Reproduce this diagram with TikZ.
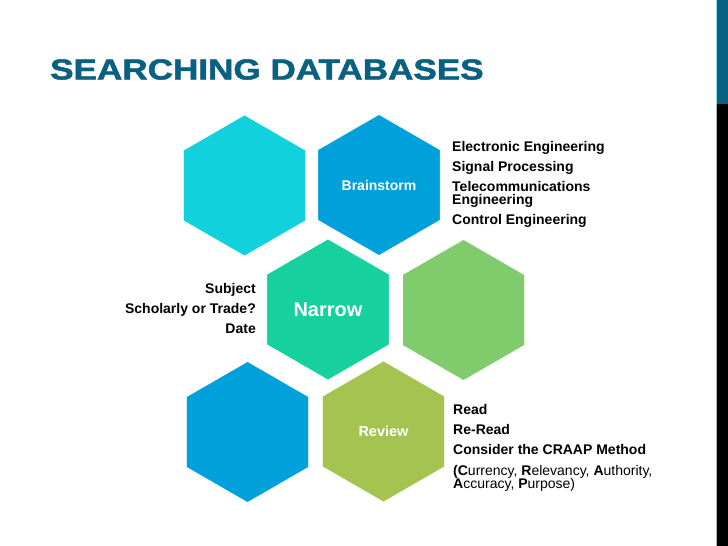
\documentclass[tikz,border=0pt]{standalone}
\usepackage{fontspec}
\setmainfont{Liberation Sans}
\newfontfamily\titlefont[BoldFeatures={FakeBold=1.6}]{Liberation Sans}
\usetikzlibrary{shapes.geometric}
\definecolor{titleteal}{RGB}{10,96,128}
\definecolor{hexcyan}{RGB}{17,210,220}
\definecolor{hexblue}{RGB}{0,160,218}
\definecolor{hexmint}{RGB}{22,208,158}
\definecolor{hexgreen}{RGB}{128,204,108}
\definecolor{hexolive}{RGB}{165,195,80}
\begin{document}
\begin{tikzpicture}[x=1pt,y=-1pt,
  hexbox/.style={regular polygon, regular polygon sides=6, shape border rotate=30,
    minimum size=141pt, inner sep=0pt, outer sep=0pt, draw=white, line width=0.6pt, text=white,
    font=\fontsize{14}{16}\selectfont\bfseries},
  listline/.style={anchor=base west, inner sep=0pt, font=\fontsize{14}{16}\selectfont\bfseries},
  listright/.style={anchor=base east, inner sep=0pt, font=\fontsize{14}{16}\selectfont\bfseries},
  plainline/.style={anchor=base west, inner sep=0pt, font=\fontsize{14}{16}\selectfont}]
\useasboundingbox (0,0) rectangle (728,546);
\fill[white] (0,0) rectangle (728,546);
% right bar
\fill[titleteal] (716,0) rectangle (728,104);
\fill[black] (716,104) rectangle (728,546);
\draw[gray!60, line width=0.6pt] (716,104) -- (716,546);
\draw[cyan!40, line width=0.6pt] (716,0) -- (716,104);
% title
\node[anchor=base west, inner sep=0pt, text=titleteal, font=\fontsize{29}{34}\selectfont\titlefont\bfseries] (title) at (50,79.5) {\scalebox{1.21}[1]{SEARCHING DATABASES}};
% hexagons
\node[hexbox, fill=hexcyan] (h1) at (244.5,185.5) {};
\node[hexbox, fill=hexblue] (h2) at (379,185) {Brainstorm};
\node[hexbox, fill=hexmint, font=\fontsize{20}{22}\selectfont\bfseries] (h3) at (328,309.5) {Narrow};
\node[hexbox, fill=hexgreen] (h4) at (463.5,310) {};
\node[hexbox, fill=hexblue] (h5) at (247.5,432) {};
\node[hexbox, fill=hexolive, font=\fontsize{14.5}{16}\selectfont\bfseries] (h6) at (383.5,431.5) {Review};
% brainstorm list
\node[listline] (b1) at (452,151.5) {Electronic Engineering};
\node[listline] (b2) at (452,171) {Signal Processing};
\node[listline] (b3) at (452,191.5) {Telecommunications};
\node[listline] (b4) at (452,204) {Engineering};
\node[listline] (b5) at (452,224.5) {Control Engineering};
% narrow list
\node[listright] (n1) at (256,293.5) {Subject};
\node[listright] (n2) at (256,313.5) {Scholarly or Trade?};
\node[listright] (n3) at (256,333.5) {Date};
% review list
\node[listline] (r1) at (453,414.5) {Read};
\node[listline] (r2) at (453,434.5) {Re-Read};
\node[listline] (r3) at (453,454.5) {Consider the CRAAP Method};
\node[plainline] (r4) at (453,475.5) {\textbf{(C}urrency, \textbf{R}elevancy, \textbf{A}uthority,};
\node[plainline] (r5) at (453,488) {\textbf{A}ccuracy, \textbf{P}urpose)};
\end{tikzpicture}
\end{document}
